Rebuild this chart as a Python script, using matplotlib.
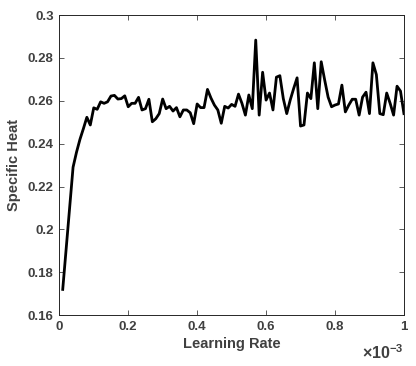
import numpy as np
import matplotlib
matplotlib.use("Agg")
import matplotlib.pyplot as plt
from matplotlib.ticker import FuncFormatter

# learning rates 1e-5 .. 1e-3
learning_rate = np.arange(1, 101) * 1e-5

specific_heat = [
    0.172, 0.191, 0.210, 0.229, 0.236, 0.242, 0.247, 0.2523, 0.2487, 0.2567, 0.2560,
    0.2595, 0.2588, 0.2595, 0.2622, 0.2625, 0.2608, 0.2610, 0.2623, 0.2572, 0.2588,
    0.2588, 0.2616, 0.2557, 0.2563, 0.2607, 0.2502, 0.2516, 0.2540, 0.2608, 0.2563,
    0.2574, 0.2552, 0.2568, 0.2525, 0.2557, 0.2557, 0.2544, 0.2493, 0.2585, 0.2568,
    0.2568, 0.2653, 0.2613, 0.2580, 0.2557, 0.2495, 0.2574, 0.2566, 0.2583, 0.2574,
    0.2631, 0.2588, 0.2533, 0.2627, 0.2563, 0.2883, 0.2533, 0.2733, 0.2603, 0.2636,
    0.2557, 0.2710, 0.2717, 0.2610, 0.2540, 0.2603, 0.2657, 0.2707, 0.2482, 0.2487,
    0.2636, 0.2610, 0.2777, 0.2563, 0.2782, 0.2697, 0.2617, 0.2572, 0.2580, 0.2585,
    0.2673, 0.2548, 0.2580, 0.2607, 0.2607, 0.2533, 0.2617, 0.2640, 0.2540, 0.2777,
    0.2722, 0.2540, 0.2535, 0.2636, 0.2588, 0.2533, 0.2668, 0.2645, 0.2540,
]

plt.rcParams['font.family'] = ['Liberation Sans', 'DejaVu Sans']
plt.rcParams['font.weight'] = 'bold'
plt.rcParams['mathtext.default'] = 'regular'

txt = '#404040'
fig = plt.figure(figsize=(4.16, 3.66), dpi=100)
ax = fig.add_axes([0.1425, 0.139, 0.8285, 0.82])

ax.plot(learning_rate, specific_heat, color='black', linewidth=2.0)

ax.set_xlim(0, 1e-3)
ax.set_ylim(0.16, 0.3)
ax.set_xticks(np.arange(0, 1.01, 0.2) * 1e-3)
ax.set_yticks(np.arange(0.16, 0.301, 0.02))
ax.xaxis.set_major_formatter(FuncFormatter(lambda v, p: '%g' % round(v * 1e3, 4)))
ax.yaxis.set_major_formatter(FuncFormatter(lambda v, p: '%g' % round(v, 4)))

ax.tick_params(direction='in', length=3.5, width=0.6, top=True, right=True,
               labelsize=9.5, colors=txt, labelcolor=txt, pad=4)
for s in ax.spines.values():
    s.set_color('#262626')
    s.set_linewidth(0.7)

ax.set_xlabel('Learning Rate', fontsize=10.5, fontweight='bold', color=txt, labelpad=3)
ax.set_ylabel('Specific Heat', fontsize=10.5, fontweight='bold', color=txt, labelpad=5)
ax.text(1.0, -0.095, r'$\times 10^{-3}$', transform=ax.transAxes, ha='right',
        va='top', fontsize=11.5, color=txt)

fig.savefig('out.png', dpi=100)
